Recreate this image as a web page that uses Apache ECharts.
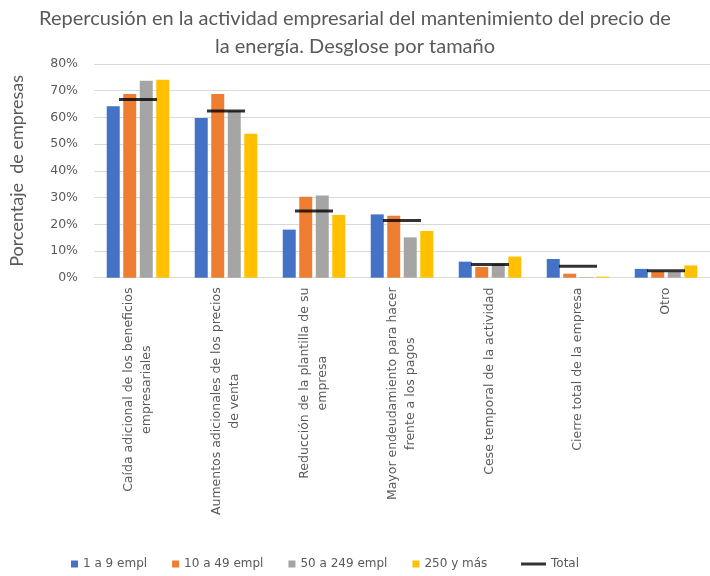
<!DOCTYPE html>
<html><head><meta charset="utf-8">
<script src="https://cdn.jsdelivr.net/npm/echarts@6/dist/echarts.min.js"></script>
<style>html,body{margin:0;padding:0;background:#fff}#c{width:710px;height:576px}</style>
</head><body><div id="c"></div>
<script>
const titleText = 'Repercusión en la actividad empresarial del mantenimiento del precio de\nla energía. Desglose por tamaño';
const yAxisName = 'Porcentaje  de empresas';
const categories = [
  'Caída adicional de los beneficios\nempresariales',
  'Aumentos adicionales de los precios\nde venta',
  'Reducción de la plantilla de su\nempresa',
  'Mayor endeudamiento para hacer\nfrente a los pagos',
  'Cese temporal de la actividad',
  'Cierre total de la empresa',
  'Otro'
];
const seriesNames = ['1 a 9 empl', '10 a 49 empl', '50 a 249 empl', '250 y más', 'Total'];
const s1a9 = [64.2, 59.8, 18.0, 23.7, 6.0, 7.0, 3.3];
const s10a49 = [68.8, 68.8, 30.3, 23.2, 4.0, 1.5, 2.3];
const s50a249 = [73.7, 62.4, 30.8, 15.1, 5.2, 0.2, 2.2];
const s250 = [74.1, 53.9, 23.5, 17.5, 7.9, 0.4, 4.6];
const sTotal = [66.7, 62.4, 25.0, 21.4, 4.9, 4.3, 2.6];
const yTicks = [0, 10, 20, 30, 40, 50, 60, 70, 80];

const colors = ['#4472C4', '#ED7D31', '#A5A5A5', '#FFC000', '#000000'];
const FONT = 'Lato';
const WIDE = 'DejaVu Sans';
const txt = '#595959';
const xFs = 12.5;

const ctx = document.createElement('canvas').getContext('2d');
ctx.font = xFs + 'px "' + WIDE + '"';
const rich = {};
categories.forEach((c, i) => {
  const w = Math.max(...c.split('\n').map(l => ctx.measureText(l).width));
  rich['r' + i] = {width: Math.ceil(w) + 1, align: 'center', fontSize: xFs, fontFamily: WIDE, color: txt, lineHeight: 18};
});

const chart = echarts.init(document.getElementById('c'));
const barSeries = [s1a9, s10a49, s50a249, s250].map((d, i) => ({
  name: seriesNames[i], type: 'bar', data: d, barWidth: 13, barGap: '27%',
  itemStyle: {color: colors[i]}
}));
chart.setOption({
  animation: false,
  backgroundColor: '#fff',
  title: {
    text: titleText, left: 'center', top: 0,
    textStyle: {fontFamily: FONT, fontSize: 20, fontWeight: 'normal', color: txt, lineHeight: 28}
  },
  legend: [{
    data: seriesNames.slice(0, 4), left: 66, top: 553, icon: 'rect', itemWidth: 7, itemHeight: 7, itemGap: 25,
    textStyle: {fontFamily: WIDE, fontSize: 12, color: txt}
  }, {
    data: [{name: 'Total', icon: 'rect'}], left: 516, top: 553, itemWidth: 25, itemHeight: 3,
    textStyle: {fontFamily: WIDE, fontSize: 12, color: txt}
  }],
  grid: {left: 86, top: 64, width: 631, bottom: 298.3, containLabel: false},
  xAxis: {
    type: 'category', data: categories,
    axisLine: {lineStyle: {color: '#D9D9D9'}}, axisTick: {show: false},
    axisLabel: {
      interval: 0, rotate: 90, margin: 9,
      formatter: (v, i) => v.split('\n').map(l => '{r' + i + '|' + l + '}').join('\n'),
      rich: rich
    }
  },
  yAxis: {
    type: 'value', min: yTicks[0], max: yTicks[yTicks.length - 1], interval: 10,
    name: yAxisName, nameLocation: 'middle', nameGap: 68,
    nameTextStyle: {fontFamily: FONT, fontSize: 18, color: txt},
    axisLabel: {formatter: '{value}%', fontFamily: WIDE, fontSize: 12.5, color: txt, margin: 16},
    splitLine: {lineStyle: {color: '#D9D9D9'}},
    axisLine: {show: false}, axisTick: {show: false}
  },
  series: barSeries.concat([{
    name: 'Total', type: 'scatter', data: sTotal, symbol: 'rect', symbolSize: [38, 3],
    itemStyle: {color: colors[4]}, z: 5
  }])
});
</script></body></html>
